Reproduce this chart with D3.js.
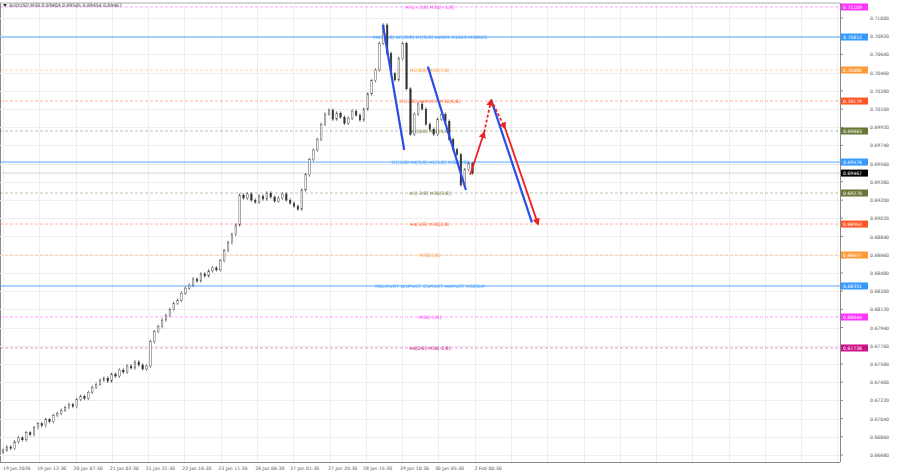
<!DOCTYPE html>
<html><head><meta charset="utf-8">
<script src="https://cdn.jsdelivr.net/npm/d3@7"></script>
<style>body{margin:0;background:#fff}svg{display:block;font-family:"DejaVu Sans",sans-serif}</style>
</head><body><svg id="c" width="900" height="474"></svg>
<script>
const closes=[0.66728,0.66760,0.66745,0.66810,0.66850,0.66830,0.66900,0.66880,0.66950,0.66990,0.66970,0.67030,0.67010,0.67070,0.67090,0.67123,
0.67150,0.67180,0.67160,0.67230,0.67260,0.67240,0.67300,0.67350,0.67380,0.67420,
0.67440,0.67410,0.67480,0.67460,0.67520,0.67500,0.67560,0.67540,0.67600,0.67570,0.67530,0.67560,
0.67800,0.67900,0.67950,0.68014,
0.68060,0.68120,0.68180,0.68210,0.68280,0.68330,0.68360,
0.68420,0.68400,0.68470,0.68450,0.68500,0.68530,0.68510,
0.68600,0.68700,0.68780,0.68860,0.68954,
0.69250,
0.69220,0.69260,0.69200,0.69180,0.69240,0.69210,0.69270,0.69230,0.69190,0.69220,0.69260,0.69200,0.69170,0.69140,0.69110,
0.69300,0.69450,0.69600,0.69695,
0.69800,0.69950,0.70050,0.70090,
0.70000,0.70060,0.70020,0.69960,0.70010,0.70080,0.70040,0.69991,
0.70100,0.70250,0.70380,0.70486,
0.70750,0.70931,
0.70650,0.70450,0.70387,
0.70600,0.70750,
0.70300,0.69850,
0.70050,0.70150,0.70100,
0.69950,0.69900,0.69850,0.70000,
0.70050,0.69980,
0.69800,0.69700,0.69650,
0.69349,
0.69500,0.69560,0.69467];
const priceTicks=d3.range(0,25).map(i=>+(0.66680+i*0.0018).toFixed(5));
const timeLabels=["19 Jan 2026","19 Jan 12:30","20 Jan 07:30","21 Jan 02:30","21 Jan 21:30","22 Jan 16:30","23 Jan 11:30","26 Jan 06:30","27 Jan 01:30","27 Jan 20:30","28 Jan 15:30","29 Jan 10:30","30 Jan 05:30","2 Feb 00:30"];
const timeIdx=[0,8.8,18.2,27.5,36.8,46.2,55.5,65,74,83.8,92.8,102.3,111.3,121.5];
const levelPrices=[0.71109,0.70812,0.70486,0.70179,0.69883,0.69576,0.69270,0.68963,0.68657,0.68351,0.68044,0.67738];
const levelNames=["H½[+2/8] M30[+1/8]","MN1[8/8] W1[8/8] D1[8/8] H4RES H1RES M30RES","H1[8/8] M30[7/8]","D1[7/8] H4PIVOT M30[6/8]","H1[6/8] M30[5/8]","D1[5/8] H4[5/8] H1[5/8] M30[4/8]","H1[-2/8] M30[3/8]","H4[3/8] M30[2/8]","M30[1/8]","MN1PIVOT W1PIVOT D1PIVOT H4PIVOT M30SUP","M30[-1/8]","H4[0/8] M30[-2/8]"];
const levelColors=["#ff33ff","#3399ff","#ff9933","#ff5522","#667733","#3399ff","#667733","#ff5522","#ff9933","#3399ff","#ff33ff","#cc1188"];
const levelSolid=[false,true,false,false,false,true,false,false,false,true,false,false];
const blueLines=[[[97.9,0.70931],[103.4,0.69695]],[[109.5,0.70520],[119.3,0.69300]],[[125.8,0.70190],[136.3,0.68980]]];
const redPath=[[120.4,0.69450],[124,0.69870],[125.8,0.70190],[129.4,0.69910],[137.9,0.68960]];
const lastPrice=0.69467;

const svg=d3.select("#c");
const R=840,T=3,B=462;
const x=d3.scaleLinear().domain([0,215.7]).range([3,840]);
const y=d3.scaleLinear().domain([0.71000,0.66680]).range([18,455]);
svg.append("line").attr("x1",0).attr("x2",R).attr("y1",T).attr("y2",T).attr("stroke","#aaa");
svg.append("line").attr("x1",R+0.5).attr("x2",R+0.5).attr("y1",T).attr("y2",B).attr("stroke","#888");
svg.append("line").attr("x1",0).attr("x2",R).attr("y1",B+0.5).attr("y2",B+0.5).attr("stroke","#888");
svg.append("line").attr("x1",0.5).attr("x2",0.5).attr("y1",T).attr("y2",B).attr("stroke","#888");
svg.append("g").selectAll("line").data(priceTicks).join("line").attr("x1",0).attr("x2",R).attr("y1",d=>Math.round(y(d))+0.5).attr("y2",d=>Math.round(y(d))+0.5).attr("stroke","#eee");
const gx=d3.range(0,24).map(i=>i*9.35);
svg.append("g").selectAll("line").data(gx).join("line").attr("x1",d=>Math.round(x(d))+0.5).attr("x2",d=>Math.round(x(d))+0.5).attr("y1",T).attr("y2",B).attr("stroke","#eee");
svg.append("g").selectAll("text").data(priceTicks).join("text").attr("x",870).attr("y",d=>y(d)+2).attr("font-size",4.6).attr("fill","#555").text(d=>d.toFixed(5));
svg.append("g").selectAll("line").data(priceTicks).join("line").attr("x1",R).attr("x2",R+3).attr("y1",d=>y(d)).attr("y2",d=>y(d)).attr("stroke","#888");
svg.append("g").selectAll("text").data(timeLabels).join("text").attr("x",(d,i)=>x(timeIdx[i])).attr("y",470).attr("font-size",4.6).attr("fill","#555").text(d=>d);
levelPrices.forEach((p,i)=>{
  svg.append("line").attr("x1",0).attr("x2",R).attr("y1",y(p)).attr("y2",y(p)).attr("stroke",levelColors[i]).attr("stroke-width",levelSolid[i]?0.9:0.7).attr("stroke-dasharray",levelSolid[i]?null:"3,2").attr("opacity",levelSolid[i]?0.9:0.6);
  svg.append("text").attr("x",x(110)).attr("y",y(p)+2).attr("font-size",4.6).attr("fill",levelColors[i]).attr("text-anchor","middle").text(levelNames[i]);
  svg.append("rect").attr("x",R+1).attr("y",y(p)-3.5).attr("width",27).attr("height",7).attr("fill",levelColors[i]);
  svg.append("text").attr("x",R+3).attr("y",y(p)+2).attr("font-size",4.6).attr("fill","#fff").text(p.toFixed(5));
});
svg.append("line").attr("x1",0).attr("x2",R).attr("y1",y(lastPrice)).attr("y2",y(lastPrice)).attr("stroke","#bbb").attr("stroke-width",0.6);
svg.append("rect").attr("x",R+1).attr("y",y(lastPrice)-3.5).attr("width",27).attr("height",7).attr("fill","#000");
svg.append("text").attr("x",R+3).attr("y",y(lastPrice)+2).attr("font-size",4.6).attr("fill","#fff").text(lastPrice.toFixed(5));
const g=svg.append("g");
closes.forEach((c,i)=>{
  const o=i?closes[i-1]:c-0.0002;
  const hi=Math.max(o,c)+0.00018, lo=Math.min(o,c)-0.00018;
  const cx=x(i);
  g.append("line").attr("x1",cx).attr("x2",cx).attr("y1",y(hi)).attr("y2",y(lo)).attr("stroke","#333").attr("stroke-width",0.6);
  g.append("rect").attr("x",cx-0.8).attr("width",1.6).attr("y",y(Math.max(o,c))).attr("height",Math.max(0.6,Math.abs(y(o)-y(c)))).attr("fill",c>=o?"#fff":"#333").attr("stroke","#333").attr("stroke-width",0.4);
});
blueLines.forEach(l=>svg.append("line").attr("x1",x(l[0][0])).attr("y1",y(l[0][1])).attr("x2",x(l[1][0])).attr("y2",y(l[1][1])).attr("stroke","#2b4de8").attr("stroke-width",2.2));
const defs=svg.append("defs");
defs.append("marker").attr("id","ah").attr("viewBox","0 0 10 10").attr("refX",8).attr("refY",5).attr("markerWidth",4).attr("markerHeight",4).attr("orient","auto").append("path").attr("d","M0,0L10,5L0,10z").attr("fill","#ee2222");
const seg=(a,b,dash)=>svg.append("line").attr("x1",x(a[0])).attr("y1",y(a[1])).attr("x2",x(b[0])).attr("y2",y(b[1])).attr("stroke","#ee2222").attr("stroke-width",1.8).attr("stroke-dasharray",dash?"3,2":null).attr("marker-end","url(#ah)");
seg(redPath[0],redPath[1],false);seg(redPath[1],redPath[2],true);seg(redPath[2],redPath[3],true);seg(redPath[3],redPath[4],false);
svg.append("path").attr("d","M3,4L7,4L5,7z").attr("fill","#333");
svg.append("text").attr("x",9).attr("y",7).attr("font-size",4.6).attr("fill","#333").text("AUDUSD,M30  0.69404 0.69505 0.69454 0.69467");
</script></body></html>
